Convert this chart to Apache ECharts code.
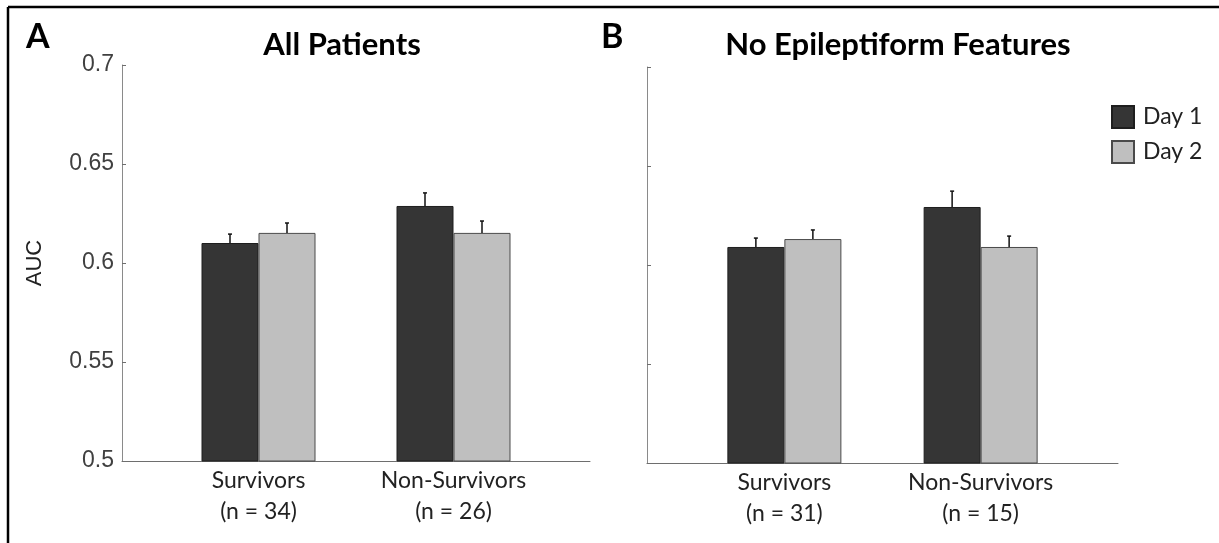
<!DOCTYPE html>
<html lang="en">
<head>
  <meta charset="UTF-8">
  <title>AUC by day</title>
  <style>
    html, body {
      height: 100%;
      width: 100%;
      margin: 0;
      padding: 0;
      background: #fff;
    }
  </style>
  <script src="https://cdn.jsdelivr.net/npm/echarts@6/dist/echarts.min.js"></script>
</head>
<body>
<div id="main" style="width: 1219px; height: 543px;"></div>

<script>
  // group positions on the x axis and their labels
  var positions = [1, 2];
  var labelsA = ['Survivors\n(n = 34)', 'Non-Survivors\n(n = 26)'];
  var labelsB = ['Survivors\n(n = 31)', 'Non-Survivors\n(n = 15)'];
  var legendNames = ['Day 1', 'Day 2'];

  // panel A: all patients
  var day1A = [0.6101, 0.6288];
  var day2A = [0.6152, 0.6152];
  var err1A = [0.0045, 0.0066];
  var err2A = [0.0050, 0.0060];

  // panel B: no epileptiform features
  var day1B = [0.6091, 0.6293];
  var day2B = [0.6131, 0.6091];
  var err1B = [0.0045, 0.0080];
  var err2B = [0.0046, 0.0055];

  var chartDom = document.getElementById('main');
  var myChart = echarts.init(chartDom);

  var BAR_W = 57;
  var colors = ['#353535', '#bfbfbf'];
  var borders = ['#1e1e1e', '#4a4a4a'];

  function pairs(vals) {
    return positions.map(function (p, i) { return [p, vals[i]]; });
  }

  function errData(vals, errs) {
    return positions.map(function (p, i) { return [p, vals[i], vals[i] + errs[i]]; });
  }

  function errSeries(idx, vals, errs, side) {
    return {
      type: 'custom',
      xAxisIndex: idx,
      yAxisIndex: idx,
      silent: true,
      z: 5,
      data: errData(vals, errs),
      renderItem: function (params, api) {
        var lo = api.coord([api.value(0), api.value(1)]);
        var hi = api.coord([api.value(0), api.value(2)]);
        var x = lo[0] + side * BAR_W / 2;
        return {
          type: 'group',
          children: [
            { type: 'line', shape: { x1: x, y1: lo[1], x2: x, y2: hi[1] }, style: { stroke: '#111', lineWidth: 1.5 } },
            { type: 'line', shape: { x1: x - 2, y1: hi[1], x2: x + 2, y2: hi[1] }, style: { stroke: '#111', lineWidth: 1.5 } }
          ]
        };
      }
    };
  }

  function barSeries(idx, name, vals, c) {
    return {
      name: name,
      type: 'bar',
      xAxisIndex: idx,
      yAxisIndex: idx,
      barWidth: BAR_W,
      barGap: '0%',
      data: pairs(vals),
      itemStyle: { color: colors[c], borderColor: borders[c], borderWidth: 1 }
    };
  }

  function xAxisFor(idx, labels) {
    return {
      type: 'value',
      gridIndex: idx,
      min: 0.3,
      max: 2.7,
      splitLine: { show: false },
      axisTick: { show: false },
      axisLine: { show: true, lineStyle: { color: '#6e6e6e', width: 1 } },
      axisLabel: {
        customValues: positions,
        formatter: function (v) { return labels[Math.round(v) - 1]; },
        fontFamily: 'Lato',
        fontSize: 23,
        lineHeight: 31,
        color: '#222',
        margin: 4
      }
    };
  }

  function yAxisFor(idx, showLabels) {
    return {
      type: 'value',
      gridIndex: idx,
      min: 0.5,
      max: 0.7,
      interval: 0.05,
      name: showLabels ? 'AUC' : '',
      nameLocation: 'middle',
      nameGap: 76,
      nameTextStyle: { fontFamily: 'Liberation Sans', fontSize: 22, color: '#222' },
      splitLine: { show: false },
      axisLine: { show: true, lineStyle: { color: '#8a8a8a', width: 1 } },
      axisTick: { show: true, inside: true, length: 4, lineStyle: { color: '#6e6e6e' } },
      axisLabel: {
        show: showLabels,
        fontFamily: 'Liberation Sans',
        fontSize: 23,
        color: '#404040',
        margin: 8,
        formatter: function (v) { return String(+v.toFixed(2)); }
      }
    };
  }

  var option = {
    animation: false,
    backgroundColor: '#fff',
    grid: [
      { left: 122, top: 65, width: 468, height: 396 },
      { left: 647, top: 67, width: 471, height: 396 }
    ],
    xAxis: [xAxisFor(0, labelsA), xAxisFor(1, labelsB)],
    yAxis: [yAxisFor(0, true), yAxisFor(1, false)],
    legend: {
      data: legendNames,
      orient: 'vertical',
      left: 1106,
      top: 100,
      itemWidth: 22,
      itemHeight: 22,
      itemGap: 11,
      icon: 'rect',
      textStyle: { fontFamily: 'Lato', fontSize: 23, color: '#222', padding: [0, 0, 0, 4] }
    },
    graphic: [
      { type: 'line', shape: { x1: 8, y1: 7, x2: 1219, y2: 7 }, style: { stroke: '#000', lineWidth: 2.5 } },
      { type: 'line', shape: { x1: 8, y1: 7, x2: 8, y2: 543 }, style: { stroke: '#000', lineWidth: 2.5 } },
      { type: 'text', left: 26, top: 20, style: { text: 'A', font: 'bold 34px Lato', fill: '#000' } },
      { type: 'text', left: 601, top: 20, style: { text: 'B', font: 'bold 34px Lato', fill: '#000' } },
      { type: 'text', x: 342, y: 45, style: { text: 'All Patients', font: 'bold 31px Lato', fill: '#000', align: 'center', verticalAlign: 'middle' } },
      { type: 'text', x: 898, y: 45, style: { text: 'No Epileptiform Features', font: 'bold 31px Lato', fill: '#000', align: 'center', verticalAlign: 'middle' } }
    ],
    series: [
      barSeries(0, 'Day 1', day1A, 0),
      barSeries(0, 'Day 2', day2A, 1),
      errSeries(0, day1A, err1A, -1),
      errSeries(0, day2A, err2A, 1),
      barSeries(1, 'Day 1', day1B, 0),
      barSeries(1, 'Day 2', day2B, 1),
      errSeries(1, day1B, err1B, -1),
      errSeries(1, day2B, err2B, 1)
    ]
  };

  myChart.setOption(option);
</script>
</body>
</html>
